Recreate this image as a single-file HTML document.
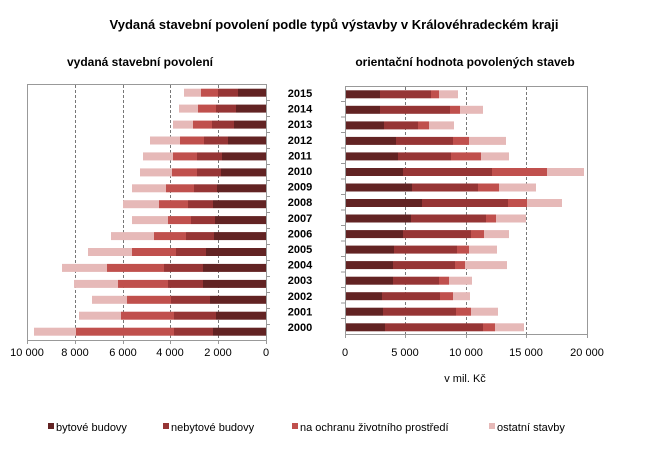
<!DOCTYPE html>
<html><head><meta charset="utf-8"><style>body{margin:0;background:#fff}svg{display:block}text{font-family:"Liberation Sans",sans-serif}
.a{fill:#622323}.b{fill:#963535}.c{fill:#c0504d}.d{fill:#e6b9b8}.g{stroke:#777;stroke-dasharray:3,2}.f{fill:none;stroke:#999}.t{stroke:#999}</style></head><body>
<svg width="668" height="460" xmlns="http://www.w3.org/2000/svg">
<text x="334" y="29" font-size="13" font-weight="bold" text-anchor="middle">Vydaná stavební povolení podle typů výstavby v Královéhradeckém kraji</text>
<text x="140" y="66" font-size="12" font-weight="bold" text-anchor="middle">vydaná stavební povolení</text>
<text x="465" y="66" font-size="12" font-weight="bold" text-anchor="middle">orientační hodnota povolených staveb</text>

<rect class="f" x="27.5" y="84.5" width="239" height="256"/>
<line class="g" x1="75.5" y1="85" x2="75.5" y2="340"/><line class="g" x1="123.5" y1="85" x2="123.5" y2="340"/><line class="g" x1="170.5" y1="85" x2="170.5" y2="340"/><line class="g" x1="218.5" y1="85" x2="218.5" y2="340"/>
<rect class="f" x="345.5" y="86.5" width="242" height="248"/>
<line class="g" x1="405.5" y1="87" x2="405.5" y2="334"/><line class="g" x1="466.5" y1="87" x2="466.5" y2="334"/><line class="g" x1="526.5" y1="87" x2="526.5" y2="334"/>

<!-- left bars -->
<g transform="translate(0,88.7)"><rect class="a" x="238" width="28" height="8"/><rect class="b" x="218" width="20" height="8"/><rect class="c" x="201" width="17" height="8"/><rect class="d" x="184" width="17" height="8"/></g>
<g transform="translate(0,104.6)"><rect class="a" x="236" width="30" height="8"/><rect class="b" x="216" width="20" height="8"/><rect class="c" x="198" width="18" height="8"/><rect class="d" x="179" width="19" height="8"/></g>
<g transform="translate(0,120.6)"><rect class="a" x="234" width="32" height="8"/><rect class="b" x="212" width="22" height="8"/><rect class="c" x="193" width="19" height="8"/><rect class="d" x="173" width="20" height="8"/></g>
<g transform="translate(0,136.5)"><rect class="a" x="228" width="38" height="8"/><rect class="b" x="204" width="24" height="8"/><rect class="c" x="180" width="24" height="8"/><rect class="d" x="150" width="30" height="8"/></g>
<g transform="translate(0,152.4)"><rect class="a" x="222" width="44" height="8"/><rect class="b" x="197" width="25" height="8"/><rect class="c" x="173" width="24" height="8"/><rect class="d" x="143" width="30" height="8"/></g>
<g transform="translate(0,168.4)"><rect class="a" x="221" width="45" height="8"/><rect class="b" x="197" width="24" height="8"/><rect class="c" x="172" width="25" height="8"/><rect class="d" x="140" width="32" height="8"/></g>
<g transform="translate(0,184.3)"><rect class="a" x="217" width="49" height="8"/><rect class="b" x="194" width="23" height="8"/><rect class="c" x="166" width="28" height="8"/><rect class="d" x="132" width="34" height="8"/></g>
<g transform="translate(0,200.2)"><rect class="a" x="213" width="53" height="8"/><rect class="b" x="188" width="25" height="8"/><rect class="c" x="159" width="29" height="8"/><rect class="d" x="123" width="36" height="8"/></g>
<g transform="translate(0,216.1)"><rect class="a" x="215" width="51" height="8"/><rect class="b" x="191" width="24" height="8"/><rect class="c" x="168" width="23" height="8"/><rect class="d" x="132" width="36" height="8"/></g>
<g transform="translate(0,232.1)"><rect class="a" x="214" width="52" height="8"/><rect class="b" x="186" width="28" height="8"/><rect class="c" x="154" width="32" height="8"/><rect class="d" x="111" width="43" height="8"/></g>
<g transform="translate(0,248)"><rect class="a" x="206" width="60" height="8"/><rect class="b" x="176" width="30" height="8"/><rect class="c" x="132" width="44" height="8"/><rect class="d" x="88" width="44" height="8"/></g>
<g transform="translate(0,263.9)"><rect class="a" x="203" width="63" height="8"/><rect class="b" x="164" width="39" height="8"/><rect class="c" x="107" width="57" height="8"/><rect class="d" x="62" width="45" height="8"/></g>
<g transform="translate(0,279.9)"><rect class="a" x="203" width="63" height="8"/><rect class="b" x="168" width="35" height="8"/><rect class="c" x="118" width="50" height="8"/><rect class="d" x="74" width="44" height="8"/></g>
<g transform="translate(0,295.8)"><rect class="a" x="210" width="56" height="8"/><rect class="b" x="171" width="39" height="8"/><rect class="c" x="127" width="44" height="8"/><rect class="d" x="92" width="35" height="8"/></g>
<g transform="translate(0,311.7)"><rect class="a" x="216" width="50" height="8"/><rect class="b" x="174" width="42" height="8"/><rect class="c" x="121" width="53" height="8"/><rect class="d" x="79" width="42" height="8"/></g>
<g transform="translate(0,327.7)"><rect class="a" x="213" width="53" height="8"/><rect class="b" x="174" width="39" height="8"/><rect class="c" x="76" width="98" height="8"/><rect class="d" x="34" width="42" height="8"/></g>

<!-- right bars -->
<g transform="translate(0,90.3)"><rect class="a" x="346" width="34" height="8"/><rect class="b" x="380" width="51" height="8"/><rect class="c" x="431" width="8" height="8"/><rect class="d" x="439" width="19" height="8"/></g>
<g transform="translate(0,105.8)"><rect class="a" x="346" width="34" height="8"/><rect class="b" x="380" width="70" height="8"/><rect class="c" x="450" width="10" height="8"/><rect class="d" x="460" width="23" height="8"/></g>
<g transform="translate(0,121.4)"><rect class="a" x="346" width="38" height="8"/><rect class="b" x="384" width="34" height="8"/><rect class="c" x="418" width="11" height="8"/><rect class="d" x="429" width="25" height="8"/></g>
<g transform="translate(0,136.9)"><rect class="a" x="346" width="50" height="8"/><rect class="b" x="396" width="57" height="8"/><rect class="c" x="453" width="16" height="8"/><rect class="d" x="469" width="37" height="8"/></g>
<g transform="translate(0,152.4)"><rect class="a" x="346" width="52" height="8"/><rect class="b" x="398" width="53" height="8"/><rect class="c" x="451" width="30" height="8"/><rect class="d" x="481" width="28" height="8"/></g>
<g transform="translate(0,168)"><rect class="a" x="346" width="57" height="8"/><rect class="b" x="403" width="89" height="8"/><rect class="c" x="492" width="55" height="8"/><rect class="d" x="547" width="37" height="8"/></g>
<g transform="translate(0,183.5)"><rect class="a" x="346" width="66" height="8"/><rect class="b" x="412" width="66" height="8"/><rect class="c" x="478" width="21" height="8"/><rect class="d" x="499" width="37" height="8"/></g>
<g transform="translate(0,199)"><rect class="a" x="346" width="76" height="8"/><rect class="b" x="422" width="86" height="8"/><rect class="c" x="508" width="19" height="8"/><rect class="d" x="527" width="35" height="8"/></g>
<g transform="translate(0,214.5)"><rect class="a" x="346" width="65" height="8"/><rect class="b" x="411" width="75" height="8"/><rect class="c" x="486" width="10" height="8"/><rect class="d" x="496" width="30" height="8"/></g>
<g transform="translate(0,230.1)"><rect class="a" x="346" width="57" height="8"/><rect class="b" x="403" width="68" height="8"/><rect class="c" x="471" width="13" height="8"/><rect class="d" x="484" width="25" height="8"/></g>
<g transform="translate(0,245.6)"><rect class="a" x="346" width="48" height="8"/><rect class="b" x="394" width="63" height="8"/><rect class="c" x="457" width="12" height="8"/><rect class="d" x="469" width="28" height="8"/></g>
<g transform="translate(0,261.1)"><rect class="a" x="346" width="47" height="8"/><rect class="b" x="393" width="62" height="8"/><rect class="c" x="455" width="10" height="8"/><rect class="d" x="465" width="42" height="8"/></g>
<g transform="translate(0,276.7)"><rect class="a" x="346" width="47" height="8"/><rect class="b" x="393" width="46" height="8"/><rect class="c" x="439" width="10" height="8"/><rect class="d" x="449" width="23" height="8"/></g>
<g transform="translate(0,292.2)"><rect class="a" x="346" width="36" height="8"/><rect class="b" x="382" width="58" height="8"/><rect class="c" x="440" width="13" height="8"/><rect class="d" x="453" width="17" height="8"/></g>
<g transform="translate(0,307.7)"><rect class="a" x="346" width="37" height="8"/><rect class="b" x="383" width="73" height="8"/><rect class="c" x="456" width="15" height="8"/><rect class="d" x="471" width="27" height="8"/></g>
<g transform="translate(0,323.3)"><rect class="a" x="346" width="39" height="8"/><rect class="b" x="385" width="98" height="8"/><rect class="c" x="483" width="12" height="8"/><rect class="d" x="495" width="29" height="8"/></g>

<!-- year labels -->
<g font-size="11" font-weight="bold" text-anchor="middle">
<text x="300" y="97">2015</text><text x="300" y="112.6">2014</text><text x="300" y="128.2">2013</text><text x="300" y="143.8">2012</text><text x="300" y="159.4">2011</text><text x="300" y="175">2010</text><text x="300" y="190.6">2009</text><text x="300" y="206.2">2008</text><text x="300" y="221.8">2007</text><text x="300" y="237.4">2006</text><text x="300" y="253">2005</text><text x="300" y="268.6">2004</text><text x="300" y="284.2">2003</text><text x="300" y="299.8">2002</text><text x="300" y="315.4">2001</text><text x="300" y="331">2000</text>
</g>

<!-- y ticks -->
<g class="t">
<line x1="266" y1="100.5" x2="270" y2="100.5"/><line x1="266" y1="116.5" x2="270" y2="116.5"/><line x1="266" y1="132.5" x2="270" y2="132.5"/><line x1="266" y1="148.5" x2="270" y2="148.5"/><line x1="266" y1="164.5" x2="270" y2="164.5"/><line x1="266" y1="180.5" x2="270" y2="180.5"/><line x1="266" y1="196.5" x2="270" y2="196.5"/><line x1="266" y1="212.5" x2="270" y2="212.5"/><line x1="266" y1="228.5" x2="270" y2="228.5"/><line x1="266" y1="244.5" x2="270" y2="244.5"/><line x1="266" y1="260.5" x2="270" y2="260.5"/><line x1="266" y1="276.5" x2="270" y2="276.5"/><line x1="266" y1="292.5" x2="270" y2="292.5"/><line x1="266" y1="308.5" x2="270" y2="308.5"/><line x1="266" y1="324.5" x2="270" y2="324.5"/>
<line x1="341" y1="101.5" x2="345" y2="101.5"/><line x1="341" y1="117" x2="345" y2="117"/><line x1="341" y1="132.5" x2="345" y2="132.5"/><line x1="341" y1="148" x2="345" y2="148"/><line x1="341" y1="163.5" x2="345" y2="163.5"/><line x1="341" y1="179" x2="345" y2="179"/><line x1="341" y1="194.5" x2="345" y2="194.5"/><line x1="341" y1="210" x2="345" y2="210"/><line x1="341" y1="225.5" x2="345" y2="225.5"/><line x1="341" y1="241" x2="345" y2="241"/><line x1="341" y1="256.5" x2="345" y2="256.5"/><line x1="341" y1="272" x2="345" y2="272"/><line x1="341" y1="287.5" x2="345" y2="287.5"/><line x1="341" y1="303" x2="345" y2="303"/><line x1="341" y1="318.5" x2="345" y2="318.5"/>
<line x1="27.5" y1="340" x2="27.5" y2="344"/><line x1="75.5" y1="340" x2="75.5" y2="344"/><line x1="123.5" y1="340" x2="123.5" y2="344"/><line x1="170.5" y1="340" x2="170.5" y2="344"/><line x1="218.5" y1="340" x2="218.5" y2="344"/><line x1="266.5" y1="340" x2="266.5" y2="344"/>
<line x1="345.5" y1="334" x2="345.5" y2="338"/><line x1="405.5" y1="334" x2="405.5" y2="338"/><line x1="466.5" y1="334" x2="466.5" y2="338"/><line x1="526.5" y1="334" x2="526.5" y2="338"/><line x1="587.5" y1="334" x2="587.5" y2="338"/>
</g>

<g font-size="11" text-anchor="middle">
<text x="27" y="356">10 000</text><text x="75" y="356">8 000</text><text x="123" y="356">6 000</text><text x="170" y="356">4 000</text><text x="218" y="356">2 000</text><text x="266" y="356">0</text>
<text x="345" y="356">0</text><text x="405" y="356">5 000</text><text x="466" y="356">10 000</text><text x="526" y="356">15 000</text><text x="587" y="356">20 000</text>
<text x="465" y="382">v mil. Kč</text>
</g>

<g font-size="11">
<rect class="a" x="48" y="423" width="6" height="6"/><text x="56" y="431">bytové budovy</text>
<rect class="b" x="163" y="423" width="6" height="6"/><text x="171" y="431">nebytové budovy</text>
<rect class="c" x="292" y="423" width="6" height="6"/><text x="300" y="431">na ochranu životního prostředí</text>
<rect class="d" x="489" y="423" width="6" height="6"/><text x="497" y="431">ostatní stavby</text>
</g>
</svg>
</body></html>
